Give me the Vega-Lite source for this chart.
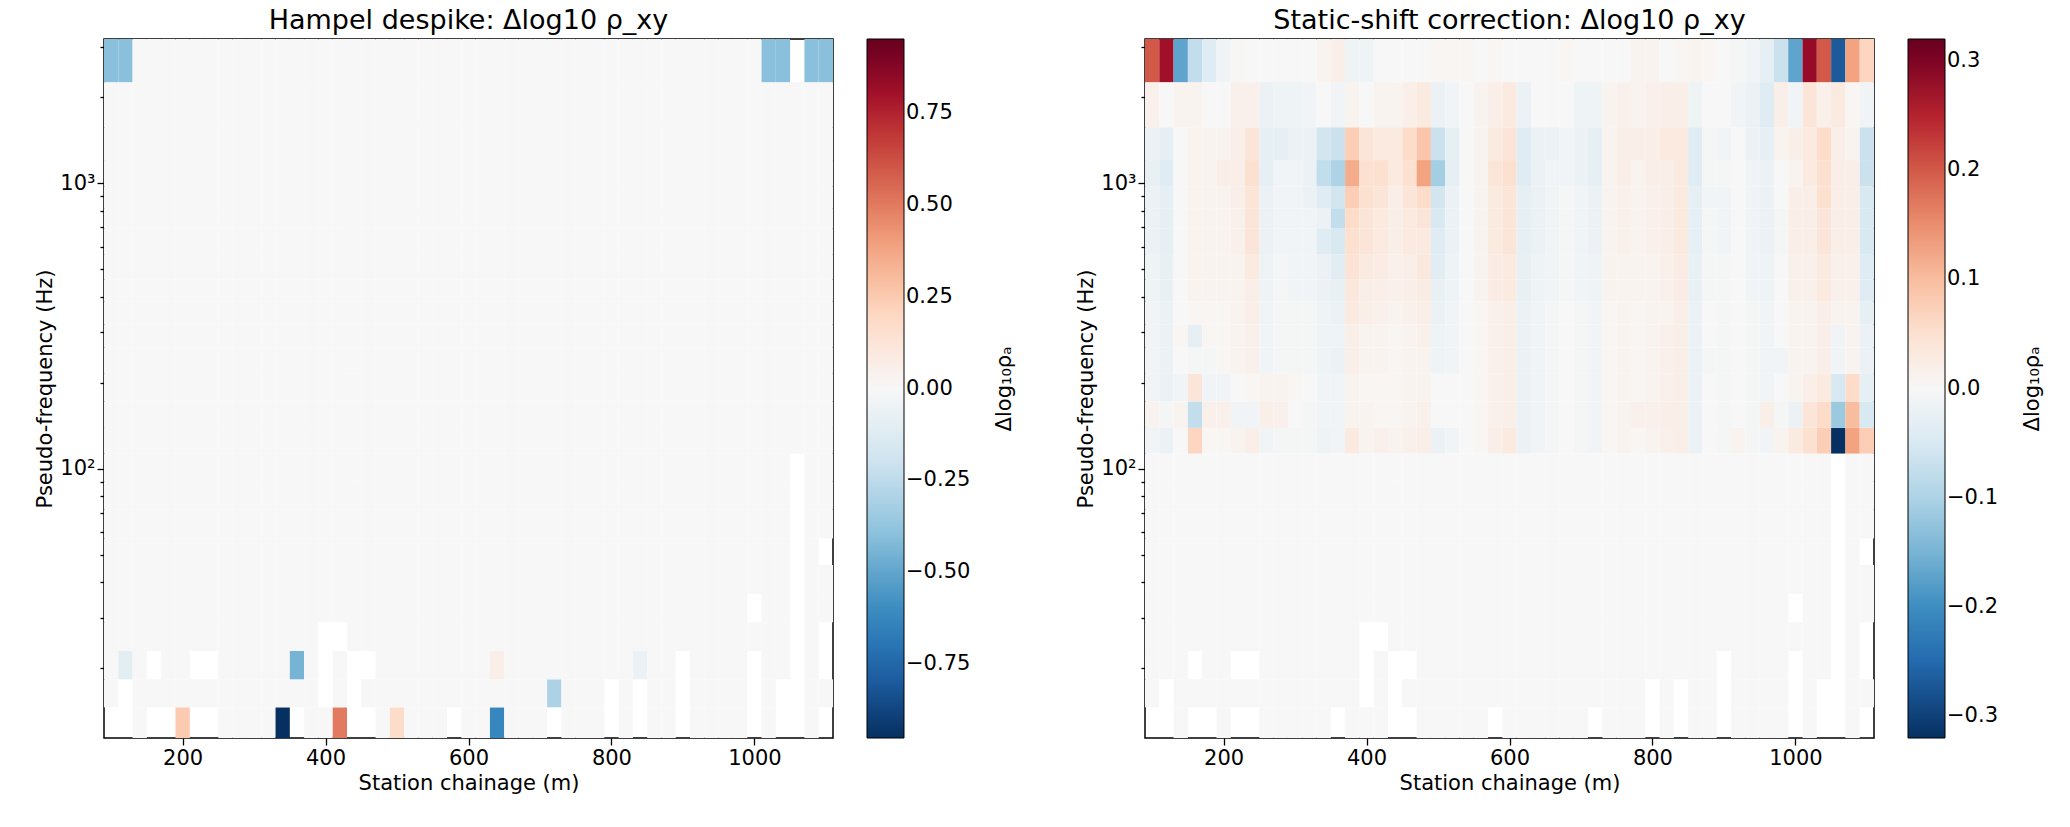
{
  "$schema": "https://vega.github.io/schema/vega-lite/v6.json",
  "background": "white",
  "padding": {"left": 34, "top": 6, "right": 10, "bottom": 6},
  "config": {
    "font": "DejaVu Sans",
    "view": {"stroke": "black", "strokeWidth": 1.5},
    "axis": {"domain": false, "grid": false, "tickColor": "black", "tickWidth": 1.3, "labelColor": "black", "titleColor": "black", "labelFontSize": 21, "titleFontSize": 21, "titleFontWeight": "normal"},
    "legend": {"labelFontSize": 21, "titleFontSize": 21, "titleFontWeight": "normal", "labelColor": "black", "titleColor": "black"},
    "title": {"fontSize": 27, "fontWeight": "normal", "color": "black"}
  },
  "data": {"values": [
    {"r":0,"lo":11.4,"hi":14.6,"s":[100,120,140,160,180,200,220,240,260,280,300,320,340,360,380,400,420,440,460,480,500,520,540,560,580,600,620,640,660,680,700,720,740,760,780,800,820,840,860,880,900,920,940,960,980,1000,1020,1040,1060,1080,1100],
     "h":[null,null,0,null,null,0.25,null,null,0,0, 0,0,-0.95,null,0,0,0.5,null,null,0, 0.18,0,0,0,null,0,0,-0.62,0,0, 0,null,0,0,0,null,0,null,0,0, null,0,0,0,0,null,0,null,null,0, null],
     "c":[null,null,0,null,null,0,null,null,0,0, 0,0,0,null,0,0,0,null,null,0, 0,0,0,0,null,0,0,0,0,0, 0,null,0,0,0,null,0,null,0,0, null,0,0,0,0,null,0,null,null,0, null]},
    {"r":1,"lo":14.6,"hi":18.3,"s":[100,120,140,160,180,200,220,240,260,280,300,320,340,360,380,400,420,440,460,480,500,520,540,560,580,600,620,640,660,680,700,720,740,760,780,800,820,840,860,880,900,920,940,960,980,1000,1020,1040,1060,1080,1100],
     "h":[0,null,0,0,0,0,0,0,0,0, 0,0,0,0,0,null,0,null,0,0, 0,0,0,0,0,0,0,0,0,0, 0,-0.3,0,0,0,null,0,null,0,0, null,0,0,0,0,null,0,null,null,0, 0],
     "c":[0,null,0,0,0,0,0,0,0,0, 0,0,0,0,0,null,0,null,0,0, 0,0,0,0,0,0,0,0,0,0, 0,0,0,0,0,null,0,null,0,0, null,0,0,0,0,null,0,null,null,0, 0]},
    {"r":2,"lo":18.3,"hi":23.0,"s":[100,120,140,160,180,200,220,240,260,280,300,320,340,360,380,400,420,440,460,480,500,520,540,560,580,600,620,640,660,680,700,720,740,760,780,800,820,840,860,880,900,920,940,960,980,1000,1020,1040,1060,1080,1100],
     "h":[0,-0.1,0,null,0,0,null,null,0,0, 0,0,0,-0.45,0,null,0,null,null,0, 0,0,0,0,0,0,0,0.06,0,0, 0,0,0,0,0,0,0,-0.06,0,0, null,0,0,0,0,null,0,0,null,0, null],
     "c":[0,0,0,null,0,0,null,null,0,0, 0,0,0,0,0,null,0,null,null,0, 0,0,0,0,0,0,0,0,0,0, 0,0,0,0,0,0,0,0,0,0, null,0,0,0,0,null,0,0,null,0, null]},
    {"r":3,"lo":23.0,"hi":29.0,"s":[100,120,140,160,180,200,220,240,260,280,300,320,340,360,380,400,420,440,460,480,500,520,540,560,580,600,620,640,660,680,700,720,740,760,780,800,820,840,860,880,900,920,940,960,980,1000,1020,1040,1060,1080,1100],
     "h":[0,0,0,0,0,0,0,0,0,0, 0,0,0,0,0,null,null,0,0,0, 0,0,0,0,0,0,0,0,0,0, 0,0,0,0,0,0,0,0,0,0, 0,0,0,0,0,0,0,0,null,0, null],
     "c":[0,0,0,0,0,0,0,0,0,0, 0,0,0,0,0,null,null,0,0,0, 0,0,0,0,0,0,0,0,0,0, 0,0,0,0,0,0,0,0,0,0, 0,0,0,0,0,0,0,0,null,0, null]},
    {"r":4,"lo":29.0,"hi":36.4,"s":[100,120,140,160,180,200,220,240,260,280,300,320,340,360,380,400,420,440,460,480,500,520,540,560,580,600,620,640,660,680,700,720,740,760,780,800,820,840,860,880,900,920,940,960,980,1000,1020,1040,1060,1080,1100],
     "h":[0,0,0,0,0,0,0,0,0,0, 0,0,0,0,0,0,0,0,0,0, 0,0,0,0,0,0,0,0,0,0, 0,0,0,0,0,0,0,0,0,0, 0,0,0,0,0,null,0,0,null,0, 0],
     "c":[0,0,0,0,0,0,0,0,0,0, 0,0,0,0,0,0,0,0,0,0, 0,0,0,0,0,0,0,0,0,0, 0,0,0,0,0,0,0,0,0,0, 0,0,0,0,0,null,0,0,null,0, 0]},
    {"r":5,"lo":36.4,"hi":46,"s":[100,120,140,160,180,200,220,240,260,280,300,320,340,360,380,400,420,440,460,480,500,520,540,560,580,600,620,640,660,680,700,720,740,760,780,800,820,840,860,880,900,920,940,960,980,1000,1020,1040,1060,1080,1100],
     "h":[0,0,0,0,0,0,0,0,0,0, 0,0,0,0,0,0,0,0,0,0, 0,0,0,0,0,0,0,0,0,0, 0,0,0,0,0,0,0,0,0,0, 0,0,0,0,0,0,0,0,null,0, 0],
     "c":[0,0,0,0,0,0,0,0,0,0, 0,0,0,0,0,0,0,0,0,0, 0,0,0,0,0,0,0,0,0,0, 0,0,0,0,0,0,0,0,0,0, 0,0,0,0,0,0,0,0,null,0, 0]},
    {"r":6,"lo":46,"hi":57,"s":[100,120,140,160,180,200,220,240,260,280,300,320,340,360,380,400,420,440,460,480,500,520,540,560,580,600,620,640,660,680,700,720,740,760,780,800,820,840,860,880,900,920,940,960,980,1000,1020,1040,1060,1080,1100],
     "h":[0,0,0,0,0,0,0,0,0,0, 0,0,0,0,0,0,0,0,0,0, 0,0,0,0,0,0,0,0,0,0, 0,0,0,0,0,0,0,0,0,0, 0,0,0,0,0,0,0,0,null,0, null],
     "c":[0,0,0,0,0,0,0,0,0,0, 0,0,0,0,0,0,0,0,0,0, 0,0,0,0,0,0,0,0,0,0, 0,0,0,0,0,0,0,0,0,0, 0,0,0,0,0,0,0,0,null,0, null]},
    {"r":7,"lo":57,"hi":72,"s":[100,120,140,160,180,200,220,240,260,280,300,320,340,360,380,400,420,440,460,480,500,520,540,560,580,600,620,640,660,680,700,720,740,760,780,800,820,840,860,880,900,920,940,960,980,1000,1020,1040,1060,1080,1100],
     "h":[0,0,0,0,0,0,0,0,0,0, 0,0,0,0,0,0,0,0,0,0, 0,0,0,0,0,0,0,0,0,0, 0,0,0,0,0,0,0,0,0,0, 0,0,0,0,0,0,0,0,null,0, 0],
     "c":[0,0,0,0,0,0,0,0,0,0, 0,0,0,0,0,0,0,0,0,0, 0,0,0,0,0,0,0,0,0,0, 0,0,0,0,0,0,0,0,0,0, 0,0,0,0,0,0,0,0,null,0, 0]},
    {"r":8,"lo":72,"hi":90,"s":[100,120,140,160,180,200,220,240,260,280,300,320,340,360,380,400,420,440,460,480,500,520,540,560,580,600,620,640,660,680,700,720,740,760,780,800,820,840,860,880,900,920,940,960,980,1000,1020,1040,1060,1080,1100],
     "h":[0,0,0,0,0,0,0,0,0,0, 0,0,0,0,0,0,0,0,0,0, 0,0,0,0,0,0,0,0,0,0, 0,0,0,0,0,0,0,0,0,0, 0,0,0,0,0,0,0,0,null,0, 0],
     "c":[0,0,0,0,0,0,0,0,0,0, 0,0,0,0,0,0,0,0,0,0, 0,0,0,0,0,0,0,0,0,0, 0,0,0,0,0,0,0,0,0,0, 0,0,0,0,0,0,0,0,null,0, 0]},
    {"r":9,"lo":90,"hi":113,"s":[100,120,140,160,180,200,220,240,260,280,300,320,340,360,380,400,420,440,460,480,500,520,540,560,580,600,620,640,660,680,700,720,740,760,780,800,820,840,860,880,900,920,940,960,980,1000,1020,1040,1060,1080,1100],
     "h":[0,0,0,0,0,0,0,0,0,0, 0,0,0,0,0,0,0,0,0,0, 0,0,0,0,0,0,0,0,0,0, 0,0,0,0,0,0,0,0,0,0, 0,0,0,0,0,0,0,0,null,0, 0],
     "c":[0,0,0,0,0,0,0,0,0,0, 0,0,0,0,0,0,0,0,0,0, 0,0,0,0,0,0,0,0,0,0, 0,0,0,0,0,0,0,0,0,0, 0,0,0,0,0,0,0,0,null,0, 0]},
    {"r":10,"lo":113,"hi":139,"s":[100,120,140,160,180,200,220,240,260,280,300,320,340,360,380,400,420,440,460,480,500,520,540,560,580,600,620,640,660,680,700,720,740,760,780,800,820,840,860,880,900,920,940,960,980,1000,1020,1040,1060,1080,1100],
     "h":[0,0,0,0,0,0,0,0,0,0, 0,0,0,0,0,0,0,0,0,0, 0,0,0,0,0,0,0,0,0,0, 0,0,0,0,0,0,0,0,0,0, 0,0,0,0,0,0,0,0,0,0, 0],
     "c":[-0.01,-0.02,0,0.07,0.005,0.005,0.01,0.02,-0.01,-0.005, -0.005,-0.005,-0.015,-0.01,0.03,0.01,0.015,0.01,0.015,0.02, -0.02,-0.01,0,0.005,0.02,0.03,-0.02,-0.01,-0.005,0, -0.005,-0.01,0.005,0.01,0.005,0.01,0.015,0.02,-0.02,0, -0.005,0.01,-0.005,-0.01,0.01,0.03,0.05,0.08,-0.32,0.13, 0.08]},
    {"r":11,"lo":139,"hi":172,"s":[100,120,140,160,180,200,220,240,260,280,300,320,340,360,380,400,420,440,460,480,500,520,540,560,580,600,620,640,660,680,700,720,740,760,780,800,820,840,860,880,900,920,940,960,980,1000,1020,1040,1060,1080,1100],
     "h":[0,0,0,0,0,0,0,0,0,0, 0,0,0,0,0,0,0,0,0,0, 0,0,0,0,0,0,0,0,0,0, 0,0,0,0,0,0,0,0,0,0, 0,0,0,0,0,0,0,0,0,0, 0],
     "c":[0.01,-0.005,0.01,-0.08,0.015,0.015,-0.01,-0.01,0.02,0.015, 0,-0.005,-0.01,-0.01,0.01,0.01,0.005,0.005,0.01,0.015, 0,0,0,0.005,0.015,0.02,-0.02,-0.01,-0.005,0, -0.005,-0.01,0.005,0.01,0.015,0.015,0.02,0.02,-0.02,0, -0.005,0,-0.005,0.02,-0.005,-0.02,0.04,0.06,-0.12,0.1, -0.05]},
    {"r":12,"lo":172,"hi":215,"s":[100,120,140,160,180,200,220,240,260,280,300,320,340,360,380,400,420,440,460,480,500,520,540,560,580,600,620,640,660,680,700,720,740,760,780,800,820,840,860,880,900,920,940,960,980,1000,1020,1040,1060,1080,1100],
     "h":[0,0,0,0,0,0,0,0,0,0, 0,0,0,0,0,0,0,0,0,0, 0,0,0,0,0,0,0,0,0,0, 0,0,0,0,0,0,0,0,0,0, 0,0,0,0,0,0,0,0,0,0, 0],
     "c":[-0.01,-0.02,-0.01,0.04,-0.01,-0.01,0,0.005,0.01,0.01, 0.005,0,-0.01,-0.01,0.01,0.005,0.005,0.005,0.01,0.01, 0,0,0,0.005,0.015,0.02,-0.02,-0.01,-0.005,0, -0.005,-0.01,0.005,0.01,0.005,0.01,0.015,0.02,-0.02,0, -0.005,0,-0.005,-0.01,0,0.01,0.02,0.03,-0.05,0.06, -0.03]},
    {"r":13,"lo":215,"hi":266,"s":[100,120,140,160,180,200,220,240,260,280,300,320,340,360,380,400,420,440,460,480,500,520,540,560,580,600,620,640,660,680,700,720,740,760,780,800,820,840,860,880,900,920,940,960,980,1000,1020,1040,1060,1080,1100],
     "h":[0,0,0,0,0,0,0,0,0,0, 0,0,0,0,0,0,0,0,0,0, 0,0,0,0,0,0,0,0,0,0, 0,0,0,0,0,0,0,0,0,0, 0,0,0,0,0,0,0,0,0,0, 0],
     "c":[-0.01,-0.02,0,-0.005,-0.005,0.005,0.01,0.015,-0.01,-0.005, -0.005,-0.005,-0.015,-0.02,0.02,0.01,0.01,0.005,0.01,0.01, -0.015,-0.01,0,0.005,0.015,0.02,-0.02,-0.01,-0.005,0, -0.005,-0.01,0.005,0.01,0.005,0.01,0.015,0.02,-0.02,-0.005, -0.005,0,-0.005,-0.01,-0.01,0.01,0.01,0.02,-0.01,0.01, -0.02]},
    {"r":14,"lo":266,"hi":320,"s":[100,120,140,160,180,200,220,240,260,280,300,320,340,360,380,400,420,440,460,480,500,520,540,560,580,600,620,640,660,680,700,720,740,760,780,800,820,840,860,880,900,920,940,960,980,1000,1020,1040,1060,1080,1100],
     "h":[0,0,0,0,0,0,0,0,0,0, 0,0,0,0,0,0,0,0,0,0, 0,0,0,0,0,0,0,0,0,0, 0,0,0,0,0,0,0,0,0,0, 0,0,0,0,0,0,0,0,0,0, 0],
     "c":[-0.01,-0.02,0.005,-0.03,0.005,0.005,0.01,0.015,-0.01,-0.005, -0.005,-0.005,-0.015,-0.015,0.02,0.01,0.01,0.005,0.01,0.015, -0.015,-0.01,0,0.005,0.015,0.02,-0.02,-0.01,-0.005,0, -0.005,-0.01,0.005,0.01,0.005,0.01,0.015,0.02,-0.02,0, -0.005,0,-0.005,-0.01,0,0.01,0.01,0.02,-0.01,0.01, -0.02]},
    {"r":15,"lo":320,"hi":385,"s":[100,120,140,160,180,200,220,240,260,280,300,320,340,360,380,400,420,440,460,480,500,520,540,560,580,600,620,640,660,680,700,720,740,760,780,800,820,840,860,880,900,920,940,960,980,1000,1020,1040,1060,1080,1100],
     "h":[0,0,0,0,0,0,0,0,0,0, 0,0,0,0,0,0,0,0,0,0, 0,0,0,0,0,0,0,0,0,0, 0,0,0,0,0,0,0,0,0,0, 0,0,0,0,0,0,0,0,0,0, 0],
     "c":[-0.01,-0.02,0,0.005,0.005,0.005,0.01,0.02,-0.01,-0.005, -0.005,-0.005,-0.015,-0.02,0.03,0.02,0.015,0.01,0.015,0.02, -0.02,-0.01,0,0.005,0.015,0.02,-0.02,-0.01,-0.005,0, -0.005,-0.01,0.005,0.01,0.005,0.01,0.01,0.02,-0.02,0, -0.005,0,-0.005,-0.01,0,0.01,0.01,0.02,0.01,0.01, -0.03]},
    {"r":16,"lo":385,"hi":460,"s":[100,120,140,160,180,200,220,240,260,280,300,320,340,360,380,400,420,440,460,480,500,520,540,560,580,600,620,640,660,680,700,720,740,760,780,800,820,840,860,880,900,920,940,960,980,1000,1020,1040,1060,1080,1100],
     "h":[0,0,0,0,0,0,0,0,0,0, 0,0,0,0,0,0,0,0,0,0, 0,0,0,0,0,0,0,0,0,0, 0,0,0,0,0,0,0,0,0,0, 0,0,0,0,0,0,0,0,0,0, 0],
     "c":[-0.015,-0.025,0,0.01,0.01,0.01,0.01,0.02,-0.015,-0.005, -0.01,-0.01,-0.02,-0.025,0.035,0.02,0.02,0.015,0.02,0.025, -0.025,-0.015,0,0.01,0.025,0.03,-0.025,-0.015,-0.01,-0.005, -0.01,-0.015,0.01,0.01,0.01,0.01,0.015,0.025,-0.025,-0.005, -0.005,0,-0.01,-0.015,0,0.015,0.015,0.03,0.015,0.015, -0.04]},
    {"r":17,"lo":460,"hi":564,"s":[100,120,140,160,180,200,220,240,260,280,300,320,340,360,380,400,420,440,460,480,500,520,540,560,580,600,620,640,660,680,700,720,740,760,780,800,820,840,860,880,900,920,940,960,980,1000,1020,1040,1060,1080,1100],
     "h":[0,0,0,0,0,0,0,0,0,0, 0,0,0,0,0,0,0,0,0,0, 0,0,0,0,0,0,0,0,0,0, 0,0,0,0,0,0,0,0,0,0, 0,0,0,0,0,0,0,0,0,0, 0],
     "c":[-0.015,-0.025,0,0.01,0.01,0.01,0.01,0.03,-0.015,-0.005, -0.01,-0.01,-0.02,-0.035,0.045,0.03,0.025,0.015,0.02,0.035, -0.035,-0.015,0,0.01,0.025,0.03,-0.025,-0.015,-0.01,-0.005, -0.01,-0.015,0.01,0.01,0.01,0.01,0.015,0.025,-0.025,-0.005, -0.005,0,-0.01,-0.015,0,0.015,0.015,0.03,0.015,0.015, -0.04]},
    {"r":18,"lo":564,"hi":695,"s":[100,120,140,160,180,200,220,240,260,280,300,320,340,360,380,400,420,440,460,480,500,520,540,560,580,600,620,640,660,680,700,720,740,760,780,800,820,840,860,880,900,920,940,960,980,1000,1020,1040,1060,1080,1100],
     "h":[0,0,0,0,0,0,0,0,0,0, 0,0,0,0,0,0,0,0,0,0, 0,0,0,0,0,0,0,0,0,0, 0,0,0,0,0,0,0,0,0,0, 0,0,0,0,0,0,0,0,0,0, 0],
     "c":[-0.02,-0.03,0,0.01,0.01,0.01,0.015,0.04,-0.02,-0.01, -0.01,-0.01,-0.04,-0.05,0.05,0.04,0.03,0.02,0.03,0.03, -0.04,-0.02,0,0.01,0.03,0.04,-0.03,-0.02,-0.01,-0.005, -0.01,-0.02,0.01,0.015,0.01,0.015,0.02,0.03,-0.03,-0.005, -0.01,0,-0.01,-0.02,-0.005,0.02,0.02,0.04,0.02,0.02, -0.05]},
    {"r":19,"lo":695,"hi":817,"s":[100,120,140,160,180,200,220,240,260,280,300,320,340,360,380,400,420,440,460,480,500,520,540,560,580,600,620,640,660,680,700,720,740,760,780,800,820,840,860,880,900,920,940,960,980,1000,1020,1040,1060,1080,1100],
     "h":[0,0,0,0,0,0,0,0,0,0, 0,0,0,0,0,0,0,0,0,0, 0,0,0,0,0,0,0,0,0,0, 0,0,0,0,0,0,0,0,0,0, 0,0,0,0,0,0,0,0,0,0, 0],
     "c":[-0.02,-0.03,0,0.01,0.01,0.01,0.015,0.04,-0.02,-0.01, -0.01,-0.01,-0.02,-0.08,0.06,0.04,0.03,0.02,0.03,0.04, -0.05,-0.02,0,0.01,0.03,0.04,-0.03,-0.02,-0.01,-0.005, -0.01,-0.02,0.01,0.015,0.01,0.015,0.02,0.03,-0.03,-0.005, -0.01,0,-0.01,-0.02,-0.005,0.02,0.02,0.04,0.02,0.02, -0.05]},
    {"r":20,"lo":817,"hi":975,"s":[100,120,140,160,180,200,220,240,260,280,300,320,340,360,380,400,420,440,460,480,500,520,540,560,580,600,620,640,660,680,700,720,740,760,780,800,820,840,860,880,900,920,940,960,980,1000,1020,1040,1060,1080,1100],
     "h":[0,0,0,0,0,0,0,0,0,0, 0,0,0,0,0,0,0,0,0,0, 0,0,0,0,0,0,0,0,0,0, 0,0,0,0,0,0,0,0,0,0, 0,0,0,0,0,0,0,0,0,0, 0],
     "c":[-0.02,-0.03,0,0.01,0.01,0.01,0.02,0.04,-0.02,-0.01, -0.01,-0.02,-0.04,-0.06,0.08,0.05,0.04,0.02,0.04,0.06, -0.06,-0.02,0,0.01,0.03,0.04,-0.03,-0.02,-0.01,-0.005, -0.01,-0.02,0.01,0.015,0.01,0.015,0.02,0.03,-0.03,-0.01, -0.01,0,-0.01,-0.02,0,0.02,0.02,0.05,0.02,0.02, -0.05]},
    {"r":21,"lo":975,"hi":1205,"s":[100,120,140,160,180,200,220,240,260,280,300,320,340,360,380,400,420,440,460,480,500,520,540,560,580,600,620,640,660,680,700,720,740,760,780,800,820,840,860,880,900,920,940,960,980,1000,1020,1040,1060,1080,1100],
     "h":[0,0,0,0,0,0,0,0,0,0, 0,0,0,0,0,0,0,0,0,0, 0,0,0,0,0,0,0,0,0,0, 0,0,0,0,0,0,0,0,0,0, 0,0,0,0,0,0,0,0,0,0, 0],
     "c":[-0.025,-0.04,0,0.01,0.01,0.02,0.02,0.05,-0.03,-0.01, -0.01,-0.02,-0.08,-0.1,0.12,0.05,0.05,0.03,0.05,0.13, -0.11,-0.03,0,0.01,0.04,0.05,-0.04,-0.02,-0.01,-0.01, -0.02,-0.03,0.01,0.02,0.01,0.02,0.02,0.03,-0.04,-0.005, -0.005,0,-0.01,-0.02,0,0.01,0.03,0.05,0.02,0.02, -0.07]},
    {"r":22,"lo":1205,"hi":1570,"s":[100,120,140,160,180,200,220,240,260,280,300,320,340,360,380,400,420,440,460,480,500,520,540,560,580,600,620,640,660,680,700,720,740,760,780,800,820,840,860,880,900,920,940,960,980,1000,1020,1040,1060,1080,1100],
     "h":[0,0,0,0,0,0,0,0,0,0, 0,0,0,0,0,0,0,0,0,0, 0,0,0,0,0,0,0,0,0,0, 0,0,0,0,0,0,0,0,0,0, 0,0,0,0,0,0,0,0,0,0, 0],
     "c":[-0.02,-0.03,0,0.01,0.01,0.01,0.02,0.04,-0.03,-0.03, -0.02,-0.02,-0.06,-0.07,0.08,0.04,0.03,0.03,0.06,0.09, -0.07,-0.03,0,0.01,0.03,0.04,-0.04,-0.02,-0.02,-0.01, -0.02,-0.03,0.01,0.02,0.02,0.02,0.03,0.03,-0.04,-0.005, -0.01,0,-0.02,-0.03,0.01,0.02,0.03,0.06,0.02,0.01, -0.07]},
    {"r":23,"lo":1570,"hi":2259,"s":[100,120,140,160,180,200,220,240,260,280,300,320,340,360,380,400,420,440,460,480,500,520,540,560,580,600,620,640,660,680,700,720,740,760,780,800,820,840,860,880,900,920,940,960,980,1000,1020,1040,1060,1080,1100],
     "h":[0,0,0,0,0,0,0,0,0,0, 0,0,0,0,0,0,0,0,0,0, 0,0,0,0,0,0,0,0,0,0, 0,0,0,0,0,0,0,0,0,0, 0,0,0,0,0,0,0,0,0,0, 0],
     "c":[0.015,0,0.01,0.01,0,0,0.015,0.015,-0.02,-0.015, -0.015,-0.01,0,-0.01,0.01,0,0.01,0.01,0.02,0.03, -0.02,-0.01,0,0.01,0.02,0.03,-0.02,0,0,0, -0.015,-0.015,0.01,0.015,0.01,0.015,0.02,0.02,-0.015,0, 0,-0.01,-0.02,-0.04,0.02,-0.01,0.04,0.015,0.03,0.005, -0.01]},
    {"r":24,"lo":2259,"hi":3199,"s":[100,120,140,160,180,200,220,240,260,280,300,320,340,360,380,400,420,440,460,480,500,520,540,560,580,600,620,640,660,680,700,720,740,760,780,800,820,840,860,880,900,920,940,960,980,1000,1020,1040,1060,1080,1100],
     "h":[-0.4,-0.4,0,0,0,0,0,0,0,0, 0,0,0,0,0,0,0,0,0,0, 0,0,0,0,0,0,0,0,0,0, 0,0,0,0,0,0,0,0,0,0, 0,0,0,0,0,0,-0.4,-0.4,null,-0.4, -0.4],
     "c":[0.2,0.27,-0.17,-0.08,-0.04,-0.01,0.003,0,0,0, 0,0,0.01,0.02,-0.015,-0.015,0,0,0,0, 0.005,0.005,0.005,0,0.005,0,0,0,0,0.005, 0,0,0,0,0.01,0.01,0,0.005,0.01,0.005, 0,-0.005,-0.01,-0.03,-0.07,-0.17,0.28,0.2,-0.27,0.13, 0.07]}
  ]},
  "transform": [
    {"flatten": ["s", "h", "c"]},
    {"calculate": "datum.s - 10", "as": "x0"},
    {"calculate": "datum.s + 10", "as": "x1"}
  ],
  "spacing": 59,
  "hconcat": [
    {
      "title": "Hampel despike: Δlog10 ρ_xy",
      "width": 729,
      "height": 699,
      "mark": {"type": "rect"},
      "encoding": {
        "x": {"field": "x0", "type": "quantitative", "scale": {"domain": [90, 1110], "nice": false, "zero": false}, "axis": {"values": [200, 400, 600, 800, 1000], "format": "d", "title": "Station chainage (m)", "tickSize": 7}},
        "x2": {"field": "x1"},
        "y": {"field": "lo", "type": "quantitative", "scale": {"type": "log", "domain": [11.4, 3199], "nice": false}, "axis": {"title": "Pseudo-frequency (Hz)", "values": [20, 30, 40, 50, 60, 70, 80, 90, 100, 200, 300, 400, 500, 600, 700, 800, 900, 1000, 2000, 3000], "labelExpr": "datum.value == 100 ? '10²' : (datum.value == 1000 ? '10³' : '')", "tickSize": {"condition": {"test": "datum.value == 100 || datum.value == 1000", "value": 7}, "value": 4}}},
        "y2": {"field": "hi"},
        "color": {"field": "h", "type": "quantitative", "scale": {"domain": [-0.95, -0.76, -0.57, -0.38, -0.19, 0, 0.19, 0.38, 0.57, 0.76, 0.95], "range": ["#053061", "#2166ac", "#4393c3", "#92c5de", "#d1e5f0", "#f7f7f7", "#fddbc7", "#f4a582", "#d6604d", "#b2182b", "#67001f"]}, "legend": {"type": "gradient", "title": "Δlog₁₀ρₐ", "gradientLength": 699, "gradientThickness": 37, "values": [-0.75, -0.5, -0.25, 0, 0.25, 0.5, 0.75], "format": ".2f", "offset": 34, "titleOrient": "right", "titleAnchor": "middle", "titlePadding": 45, "gradientStrokeColor": "black", "gradientStrokeWidth": 1, "encode": {"title": {"update": {"angle": {"value": 270}}}}}}
      }
    },
    {
      "title": "Static-shift correction: Δlog10 ρ_xy",
      "width": 729,
      "height": 699,
      "mark": {"type": "rect"},
      "encoding": {
        "x": {"field": "x0", "type": "quantitative", "scale": {"domain": [90, 1110], "nice": false, "zero": false}, "axis": {"values": [200, 400, 600, 800, 1000], "format": "d", "title": "Station chainage (m)", "tickSize": 7}},
        "x2": {"field": "x1"},
        "y": {"field": "lo", "type": "quantitative", "scale": {"type": "log", "domain": [11.4, 3199], "nice": false}, "axis": {"title": "Pseudo-frequency (Hz)", "values": [20, 30, 40, 50, 60, 70, 80, 90, 100, 200, 300, 400, 500, 600, 700, 800, 900, 1000, 2000, 3000], "labelExpr": "datum.value == 100 ? '10²' : (datum.value == 1000 ? '10³' : '')", "tickSize": {"condition": {"test": "datum.value == 100 || datum.value == 1000", "value": 7}, "value": 4}}},
        "y2": {"field": "hi"},
        "color": {"field": "c", "type": "quantitative", "scale": {"domain": [-0.32, -0.256, -0.192, -0.128, -0.064, 0, 0.064, 0.128, 0.192, 0.256, 0.32], "range": ["#053061", "#2166ac", "#4393c3", "#92c5de", "#d1e5f0", "#f7f7f7", "#fddbc7", "#f4a582", "#d6604d", "#b2182b", "#67001f"]}, "legend": {"type": "gradient", "title": "Δlog₁₀ρₐ", "gradientLength": 699, "gradientThickness": 37, "values": [-0.3, -0.2, -0.1, 0, 0.1, 0.2, 0.3], "format": ".1f", "offset": 34, "titleOrient": "right", "titleAnchor": "middle", "titlePadding": 45, "gradientStrokeColor": "black", "gradientStrokeWidth": 1, "encode": {"title": {"update": {"angle": {"value": 270}}}}}}
      }
    }
  ],
  "resolve": {"scale": {"color": "independent"}}
}
